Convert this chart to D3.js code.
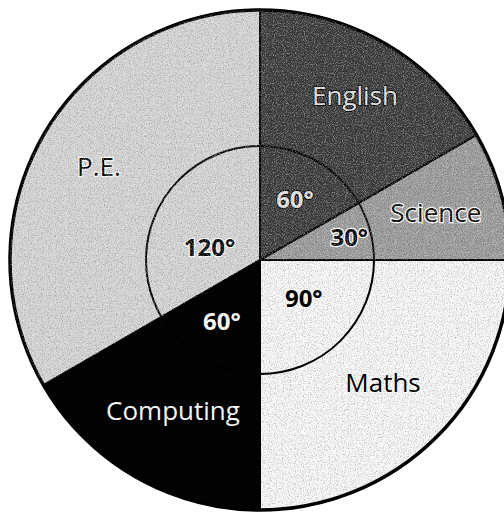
<!DOCTYPE html>
<html>
<head>
<meta charset="utf-8">
<script src="https://cdn.jsdelivr.net/npm/d3@7"></script>
<style>
  body { margin: 0; background: #fff; }
  svg text { font-family: "Open Sans", sans-serif; }
</style>
</head>
<body>
<svg id="chart"></svg>
<script>
// data
const subjects = ['English', 'Science', 'Maths', 'Computing', 'P.E.'];
const degrees = [60, 30, 90, 60, 120];
const fills = ['#3a3a3a', '#9a9a9a', '#f8f8f8', '#030303', '#d4d4d4'];

const width = 504;
const height = 515;
const cx = 260;
const cy = 260;
const radius = 250;
const innerR = 114;

// label placement (radius, angle nudge in degrees) per slice
const nameR = [190, 182, 174, 174, 186];
const degR = [70, 92, 58, 72, 52];
const degNudge = [0, 1, -4, 2, -16];
const nameFill = ['#e4e4e4', '#000', '#000', '#fff', '#000'];
const degFill = ['#e4e4e4', '#000', '#000', '#fff', '#000'];

const rows = subjects.map((s, i) => ({ subject: s, deg: degrees[i], i }));

const svg = d3.select('#chart').attr('width', width).attr('height', height);

// speckle texture like a photocopy
const defs = svg.append('defs');
const f = defs.append('filter').attr('id', 'grain')
  .attr('x', 0).attr('y', 0).attr('width', '100%').attr('height', '100%');
f.append('feTurbulence').attr('type', 'fractalNoise')
  .attr('baseFrequency', 0.85).attr('numOctaves', 2).attr('seed', 4);
f.append('feColorMatrix').attr('type', 'matrix')
  .attr('values', '0 0 0 0 0  0 0 0 0 0  0 0 0 0 0  3 0 0 0 -1.4');
defs.append('clipPath').attr('id', 'disc')
  .append('circle').attr('cx', cx).attr('cy', cy).attr('r', radius);

const g = svg.append('g').attr('transform', `translate(${cx},${cy})`);

const pie = d3.pie().sort(null).value(d => d.deg);
const arcs = pie(rows);
const arc = d3.arc().innerRadius(0).outerRadius(radius);

g.selectAll('path.slice')
  .data(arcs)
  .enter()
  .append('path')
  .attr('class', 'slice')
  .attr('d', arc)
  .attr('fill', d => fills[d.data.i]);

// grain overlay: dark specks everywhere, light specks on the grey slices
svg.append('rect')
  .attr('x', 0).attr('y', 0).attr('width', width).attr('height', height)
  .attr('clip-path', 'url(#disc)')
  .attr('filter', 'url(#grain)')
  .attr('opacity', 0.22);

const lightDefs = defs.append('clipPath').attr('id', 'greySlices');
arcs.filter(d => d.data.i !== 2 && d.data.i !== 3).forEach(d => {
  lightDefs.append('path').attr('d', arc(d)).attr('transform', `translate(${cx},${cy})`);
});
const f2 = defs.append('filter').attr('id', 'grainLight')
  .attr('x', 0).attr('y', 0).attr('width', '100%').attr('height', '100%');
f2.append('feTurbulence').attr('type', 'fractalNoise')
  .attr('baseFrequency', 0.9).attr('numOctaves', 2).attr('seed', 9);
f2.append('feColorMatrix').attr('type', 'matrix')
  .attr('values', '0 0 0 0 1  0 0 0 0 1  0 0 0 0 1  3 0 0 0 -1.35');
svg.append('rect')
  .attr('x', 0).attr('y', 0).attr('width', width).attr('height', height)
  .attr('clip-path', 'url(#greySlices)')
  .attr('filter', 'url(#grainLight)')
  .attr('opacity', 0.4);

// slice borders
g.selectAll('path.edge')
  .data(arcs)
  .enter()
  .append('path')
  .attr('class', 'edge')
  .attr('d', arc)
  .attr('fill', 'none')
  .attr('stroke', '#000')
  .attr('stroke-width', 2)
  .attr('stroke-linejoin', 'round');

g.append('circle').attr('r', innerR)
  .attr('fill', 'none').attr('stroke', '#000').attr('stroke-width', 2);
g.append('circle').attr('r', radius)
  .attr('fill', 'none').attr('stroke', '#000').attr('stroke-width', 3.5);

const rad = Math.PI / 180;
const place = (d, r, nudge) => {
  const a = (d.startAngle + d.endAngle) / 2 + (nudge || 0) * rad;
  return [r * Math.sin(a), -r * Math.cos(a)];
};

// subject names
g.selectAll('text.name')
  .data(arcs)
  .enter()
  .append('text')
  .attr('class', 'name')
  .attr('transform', d => `translate(${place(d, nameR[d.data.i])})`)
  .attr('text-anchor', 'middle')
  .attr('dy', '0.36em')
  .style('font-size', '26px')
  .style('paint-order', 'stroke')
  .attr('stroke', d => (d.data.i === 0 ? '#000' : d.data.i === 3 ? 'none' : '#fff'))
  .attr('stroke-width', d => (d.data.i === 0 ? 2 : 2.5))
  .attr('fill', d => nameFill[d.data.i])
  .text(d => d.data.subject);

// angle labels
g.selectAll('text.deg')
  .data(arcs)
  .enter()
  .append('text')
  .attr('class', 'deg')
  .attr('transform', d => `translate(${place(d, degR[d.data.i], degNudge[d.data.i])})`)
  .attr('text-anchor', 'middle')
  .attr('dy', '0.36em')
  .style('font-size', '24px')
  .style('font-weight', 'bold')
  .style('paint-order', 'stroke')
  .attr('stroke', d => (d.data.i === 0 ? '#000' : d.data.i === 3 ? 'none' : '#fff'))
  .attr('stroke-width', d => (d.data.i === 0 ? 2 : 2.5))
  .attr('fill', d => degFill[d.data.i])
  .text(d => d.data.deg + '°');
</script>
</body>
</html>
